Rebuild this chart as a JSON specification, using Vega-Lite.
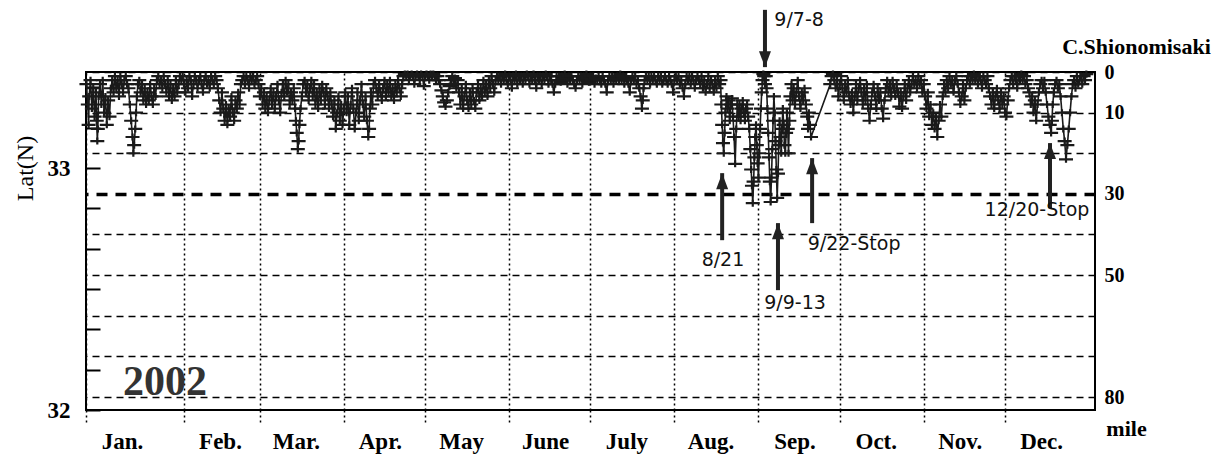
{
"$schema": "https://vega.github.io/schema/vega-lite/v6.json",
"autosize": "none",
"width": 1009,
"height": 338,
"padding": {"left": 86, "top": 72, "right": 129, "bottom": 50},
"background": "white",
"config": {"view": {"stroke": "#000", "strokeWidth": 2}},
"datasets": {
"track": [
{"day":-5,"mile":3},{"day":-4.5,"mile":8},{"day":-4.2,"mile":13},{"day":-4,"mile":6},{"day":-3.5,"mile":2},{"day":-3,"mile":9},{"day":-2.5,"mile":4},{"day":-2,"mile":11},{"day":-1.5,"mile":5},{"day":-1.2,"mile":12},{"day":-1,"mile":17},{"day":-0.8,"mile":14},{"day":-0.5,"mile":6},{"day":0,"mile":3},
{"day":0.5,"mile":8},{"day":1,"mile":2},{"day":1.5,"mile":10},{"day":2,"mile":6},{"day":2.5,"mile":13},{"day":3,"mile":7},{"day":3.5,"mile":11},{"day":4,"mile":4},
{"day":4.5,"mile":2},{"day":5,"mile":5},{"day":5.5,"mile":1},{"day":6,"mile":4},{"day":6.5,"mile":2},{"day":7,"mile":6},{"day":7.5,"mile":1},{"day":8,"mile":3},{"day":8.5,"mile":5},{"day":9,"mile":2},{"day":9.5,"mile":1},{"day":10,"mile":3},
{"day":10.5,"mile":4},{"day":11,"mile":8},{"day":11.5,"mile":12},{"day":12,"mile":16},{"day":12.3,"mile":20},{"day":12.6,"mile":18},{"day":13,"mile":14},{"day":13.3,"mile":10},{"day":13.6,"mile":6},{"day":14,"mile":3},
{"day":14.5,"mile":2},{"day":15,"mile":5},{"day":15.5,"mile":3},{"day":16,"mile":7},{"day":16.5,"mile":4},{"day":17,"mile":8},{"day":17.5,"mile":5},{"day":18,"mile":7},{"day":18.5,"mile":3},{"day":19,"mile":6},{"day":19.5,"mile":8},{"day":20,"mile":4},{"day":20.5,"mile":6},{"day":21,"mile":2},
{"day":21.5,"mile":1},{"day":22,"mile":3},{"day":22.5,"mile":2},{"day":23,"mile":4},{"day":23.5,"mile":1},{"day":24,"mile":3},{"day":24.5,"mile":5},{"day":25,"mile":2},{"day":25.5,"mile":6},{"day":26,"mile":3},{"day":26.5,"mile":7},{"day":27,"mile":4},{"day":27.5,"mile":6},{"day":28,"mile":2},{"day":28.5,"mile":5},{"day":29,"mile":3},{"day":29.5,"mile":1},{"day":30,"mile":2},
{"day":30.5,"mile":1},{"day":31,"mile":3},{"day":31.5,"mile":5},{"day":32,"mile":2},{"day":32.5,"mile":4},{"day":33,"mile":1},{"day":33.5,"mile":2},{"day":34,"mile":6},{"day":34.5,"mile":3},{"day":35,"mile":1},{"day":35.5,"mile":2},{"day":36,"mile":4},{"day":36.5,"mile":2},{"day":37,"mile":1},{"day":37.5,"mile":3},{"day":38,"mile":5},{"day":38.5,"mile":2},{"day":39,"mile":1},{"day":39.5,"mile":3},{"day":40,"mile":2},{"day":40.5,"mile":4},{"day":41,"mile":1},{"day":41.5,"mile":2},{"day":42,"mile":3},{"day":42.5,"mile":1},{"day":43,"mile":2},
{"day":43.5,"mile":4},{"day":44,"mile":7},{"day":44.5,"mile":10},{"day":45,"mile":5},{"day":45.5,"mile":9},{"day":46,"mile":12},{"day":46.5,"mile":8},{"day":47,"mile":13},{"day":47.5,"mile":9},{"day":48,"mile":11},{"day":48.5,"mile":6},{"day":49,"mile":10},{"day":49.5,"mile":12},{"day":50,"mile":7},{"day":50.5,"mile":9},{"day":51,"mile":5},{"day":51.5,"mile":8},{"day":52,"mile":3},
{"day":52.5,"mile":2},{"day":53,"mile":1},{"day":53.5,"mile":3},{"day":54,"mile":1},{"day":54.5,"mile":2},{"day":55,"mile":4},{"day":55.5,"mile":1},{"day":56,"mile":2},{"day":56.5,"mile":1},{"day":57,"mile":3},{"day":57.5,"mile":2},{"day":58,"mile":1},
{"day":58.5,"mile":3},{"day":59,"mile":6},{"day":59.5,"mile":4},{"day":60,"mile":8},{"day":60.5,"mile":5},{"day":61,"mile":9},{"day":61.5,"mile":6},{"day":62,"mile":10},{"day":62.5,"mile":7},{"day":63,"mile":4},{"day":63.5,"mile":8},{"day":64,"mile":5},{"day":64.5,"mile":9},{"day":65,"mile":6},{"day":65.5,"mile":3},{"day":66,"mile":7},{"day":66.5,"mile":10},{"day":67,"mile":5},{"day":67.5,"mile":3},{"day":68,"mile":6},
{"day":68.5,"mile":2},{"day":69,"mile":5},{"day":69.5,"mile":3},{"day":70,"mile":8},{"day":70.5,"mile":5},{"day":71,"mile":7},{"day":71.5,"mile":4},{"day":72,"mile":9},{"day":72.3,"mile":12},{"day":72.6,"mile":15},{"day":73,"mile":19},{"day":73.3,"mile":17},{"day":73.6,"mile":13},{"day":74,"mile":9},{"day":74.5,"mile":6},{"day":75,"mile":3},
{"day":75.5,"mile":2},{"day":76,"mile":5},{"day":76.5,"mile":3},{"day":77,"mile":7},{"day":77.5,"mile":4},{"day":78,"mile":2},{"day":78.5,"mile":6},{"day":79,"mile":3},{"day":79.5,"mile":8},{"day":80,"mile":5},{"day":80.5,"mile":9},{"day":81,"mile":4},{"day":81.5,"mile":7},{"day":82,"mile":3},{"day":82.5,"mile":5},{"day":83,"mile":8},{"day":83.5,"mile":4},{"day":84,"mile":6},{"day":84.5,"mile":9},{"day":85,"mile":5},
{"day":85.5,"mile":8},{"day":86,"mile":11},{"day":86.5,"mile":7},{"day":87,"mile":14},{"day":87.5,"mile":10},{"day":88,"mile":6},{"day":88.5,"mile":12},{"day":89,"mile":8},{"day":89.5,"mile":13},{"day":90,"mile":9},{"day":90.5,"mile":5},{"day":91,"mile":10},
{"day":91.5,"mile":6},{"day":92,"mile":13},{"day":92.5,"mile":8},{"day":93,"mile":4},{"day":93.5,"mile":9},{"day":94,"mile":14},{"day":94.5,"mile":10},{"day":95,"mile":5},{"day":95.5,"mile":12},{"day":96,"mile":7},{"day":96.5,"mile":3},{"day":97,"mile":8},{"day":97.5,"mile":11},{"day":98,"mile":6},{"day":98.5,"mile":12},{"day":99,"mile":16},{"day":99.3,"mile":14},{"day":99.6,"mile":9},{"day":100,"mile":5},{"day":100.5,"mile":8},{"day":101,"mile":3},
{"day":101.5,"mile":2},{"day":102,"mile":4},{"day":102.5,"mile":6},{"day":103,"mile":3},{"day":103.5,"mile":5},{"day":104,"mile":7},{"day":104.5,"mile":4},{"day":105,"mile":2},{"day":105.5,"mile":6},{"day":106,"mile":3},{"day":106.5,"mile":5},{"day":107,"mile":2},{"day":107.5,"mile":6},{"day":108,"mile":4},{"day":108.5,"mile":7},{"day":109,"mile":3},{"day":109.5,"mile":5},{"day":110,"mile":2},{"day":110.5,"mile":4},{"day":111,"mile":6},{"day":111.5,"mile":3},{"day":112,"mile":1},
{"day":112.5,"mile":0.5},{"day":113,"mile":1},{"day":113.5,"mile":0.5},{"day":114,"mile":2},{"day":114.5,"mile":1},{"day":115,"mile":0.5},{"day":115.5,"mile":1},{"day":116,"mile":3},{"day":116.5,"mile":1},{"day":117,"mile":0.5},{"day":117.5,"mile":1},{"day":118,"mile":2},{"day":118.5,"mile":0.5},{"day":119,"mile":1},{"day":119.5,"mile":3.5},{"day":120,"mile":1},{"day":120.5,"mile":0.5},{"day":121,"mile":1},{"day":121.5,"mile":2},{"day":122,"mile":0.5},{"day":122.5,"mile":1},{"day":123,"mile":0.5},{"day":123.5,"mile":1},{"day":124,"mile":2},
{"day":124.5,"mile":1},{"day":125,"mile":2},{"day":125.5,"mile":3},{"day":126,"mile":4.5},{"day":126.5,"mile":6},{"day":127,"mile":7.5},{"day":127.5,"mile":8.5},{"day":128,"mile":7},{"day":128.5,"mile":5},{"day":129,"mile":3.5},{"day":129.5,"mile":2},{"day":130,"mile":1},{"day":130.5,"mile":3},{"day":131,"mile":1.5},{"day":131.5,"mile":4},{"day":132,"mile":2},
{"day":132.5,"mile":5},{"day":133,"mile":8},{"day":133.5,"mile":4},{"day":134,"mile":9},{"day":134.5,"mile":6},{"day":135,"mile":3},{"day":135.5,"mile":7},{"day":136,"mile":9},{"day":136.5,"mile":5},{"day":137,"mile":8},{"day":137.5,"mile":4},{"day":138,"mile":7},{"day":138.5,"mile":9},{"day":139,"mile":5},{"day":139.5,"mile":3},{"day":140,"mile":7},{"day":140.5,"mile":4},{"day":141,"mile":6},{"day":141.5,"mile":2},{"day":142,"mile":5},{"day":142.5,"mile":3},{"day":143,"mile":6},{"day":143.5,"mile":2},{"day":144,"mile":4},{"day":144.5,"mile":1},{"day":145,"mile":3},{"day":145.5,"mile":5},{"day":146,"mile":2},{"day":146.5,"mile":1},
{"day":147,"mile":2},{"day":147.5,"mile":1},{"day":148,"mile":3},{"day":148.5,"mile":1},{"day":149,"mile":2},{"day":149.5,"mile":0.5},{"day":150,"mile":2},{"day":150.5,"mile":3},{"day":151,"mile":1},{"day":151.5,"mile":2},{"day":152,"mile":4},{"day":152.5,"mile":1},{"day":153,"mile":2},{"day":153.5,"mile":0.5},{"day":154,"mile":3},{"day":154.5,"mile":1},{"day":155,"mile":2},{"day":155.5,"mile":1},{"day":156,"mile":3},{"day":156.5,"mile":1},{"day":157,"mile":2},{"day":157.5,"mile":0.5},{"day":158,"mile":1},{"day":158.5,"mile":3},{"day":159,"mile":1},{"day":159.5,"mile":2},{"day":160,"mile":0.5},{"day":160.5,"mile":2},{"day":161,"mile":4},{"day":161.5,"mile":1},{"day":162,"mile":2},{"day":162.5,"mile":1},{"day":163,"mile":3},{"day":163.5,"mile":1},{"day":164,"mile":2},{"day":164.5,"mile":0.5},{"day":165,"mile":1},{"day":165.5,"mile":3},{"day":166,"mile":1},
{"day":166.5,"mile":2},{"day":167,"mile":3},{"day":167.5,"mile":5},{"day":168,"mile":3},{"day":168.5,"mile":1},{"day":169,"mile":2},{"day":169.5,"mile":1},{"day":170,"mile":2.5},{"day":170.5,"mile":1},{"day":171,"mile":2},{"day":171.5,"mile":0.5},{"day":172,"mile":1.5},{"day":172.5,"mile":3},{"day":173,"mile":1},{"day":173.5,"mile":2},{"day":174,"mile":1},{"day":174.5,"mile":2},{"day":175,"mile":3},{"day":175.5,"mile":4},{"day":176,"mile":2},{"day":176.5,"mile":1},{"day":177,"mile":2},{"day":177.5,"mile":1},{"day":178,"mile":3},{"day":178.5,"mile":1},{"day":179,"mile":2},{"day":179.5,"mile":0.5},{"day":180,"mile":1.5},{"day":180.5,"mile":2.5},{"day":181,"mile":1},{"day":181.5,"mile":2},{"day":182,"mile":1},{"day":182.5,"mile":3},{"day":183,"mile":1.5},{"day":183.5,"mile":2},{"day":184,"mile":1},{"day":184.5,"mile":2},{"day":185,"mile":3},{"day":185.5,"mile":1},{"day":186,"mile":2},{"day":186.5,"mile":3},{"day":187,"mile":5},{"day":187.5,"mile":2},{"day":188,"mile":1},{"day":188.5,"mile":2},{"day":189,"mile":1},{"day":189.5,"mile":3},{"day":190,"mile":1.5},{"day":190.5,"mile":2},{"day":191,"mile":1},{"day":191.5,"mile":2},{"day":192,"mile":0.5},{"day":192.5,"mile":2},{"day":193,"mile":1},{"day":193.5,"mile":3},{"day":194,"mile":1.5},{"day":194.5,"mile":2},{"day":195,"mile":3},{"day":195.5,"mile":5},{"day":196,"mile":2},{"day":196.5,"mile":1},{"day":197,"mile":2},{"day":197.5,"mile":1},{"day":198,"mile":3},{"day":198.5,"mile":2},{"day":199,"mile":4},{"day":199.5,"mile":6},{"day":200,"mile":9},{"day":200.3,"mile":7},{"day":200.6,"mile":4},{"day":201,"mile":2},{"day":201.5,"mile":1},{"day":202,"mile":2},{"day":202.5,"mile":1},{"day":203,"mile":3},{"day":203.5,"mile":1},{"day":204,"mile":2},{"day":204.5,"mile":1},{"day":205,"mile":2},{"day":205.5,"mile":3},{"day":206,"mile":1},{"day":206.5,"mile":2},{"day":207,"mile":1},{"day":207.5,"mile":3},{"day":208,"mile":2},{"day":208.5,"mile":1},{"day":209,"mile":2},{"day":209.5,"mile":3},{"day":210,"mile":1},{"day":210.5,"mile":2},{"day":211,"mile":3},{"day":211.5,"mile":5},{"day":212,"mile":2},{"day":212.5,"mile":1},{"day":213,"mile":2},{"day":213.5,"mile":1},{"day":214,"mile":3},{"day":214.5,"mile":2},{"day":215,"mile":4},{"day":215.5,"mile":6},{"day":216,"mile":3},{"day":216.5,"mile":1},{"day":217,"mile":2},{"day":217.5,"mile":1},{"day":218,"mile":3},{"day":218.5,"mile":1},{"day":219,"mile":2},{"day":219.5,"mile":4},{"day":220,"mile":2},{"day":220.5,"mile":1},{"day":221,"mile":2},
{"day":221.5,"mile":3},{"day":222,"mile":1},{"day":222.5,"mile":4},{"day":223,"mile":2},{"day":223.5,"mile":5},{"day":224,"mile":3},{"day":224.5,"mile":1},{"day":225,"mile":4},{"day":225.5,"mile":2},{"day":226,"mile":3},{"day":226.5,"mile":5},{"day":227,"mile":2},{"day":227.5,"mile":4},{"day":228,"mile":1},{"day":228.5,"mile":3},
{"day":229,"mile":2},{"day":229.3,"mile":8},{"day":229.6,"mile":13},{"day":229.9,"mile":17.5},{"day":230.2,"mile":20},{"day":230.5,"mile":15},{"day":230.8,"mile":10},{"day":231.2,"mile":6},{"day":231.6,"mile":9},{"day":232,"mile":7},{"day":232.4,"mile":12},{"day":232.8,"mile":8},{"day":233.2,"mile":6.5},{"day":233.6,"mile":11},{"day":234,"mile":16},{"day":234.4,"mile":22.6},{"day":234.8,"mile":14},{"day":235.2,"mile":8},{"day":235.6,"mile":11},{"day":236,"mile":8},{"day":236.4,"mile":12},{"day":236.8,"mile":9},{"day":237.2,"mile":7},{"day":237.6,"mile":10},{"day":238,"mile":12},{"day":238.4,"mile":9},{"day":238.8,"mile":8},{"day":239.2,"mile":11},{"day":239.6,"mile":14},{"day":240,"mile":19},{"day":240.3,"mile":24},{"day":240.6,"mile":28},{"day":240.9,"mile":32.3},{"day":241.2,"mile":27},{"day":241.5,"mile":21},{"day":241.8,"mile":16},{"day":242.1,"mile":13},{"day":242.4,"mile":18},{"day":242.7,"mile":22.5},{"day":243,"mile":26},{"day":243.3,"mile":20},{"day":243.6,"mile":14},{"day":243.9,"mile":9},{"day":244.2,"mile":5},{"day":244.5,"mile":2},{"day":244.8,"mile":0.5},{"day":245.1,"mile":1},{"day":245.4,"mile":3},{"day":245.7,"mile":1},{"day":246,"mile":4},{"day":246.3,"mile":9},{"day":246.6,"mile":15},{"day":246.9,"mile":21},{"day":247.2,"mile":27},{"day":247.5,"mile":32},{"day":247.8,"mile":26},{"day":248.1,"mile":19},{"day":248.4,"mile":12},{"day":248.7,"mile":6},{"day":249,"mile":10},{"day":249.3,"mile":17},{"day":249.6,"mile":24},{"day":249.9,"mile":31},{"day":250.2,"mile":25},{"day":250.5,"mile":18},{"day":250.8,"mile":12},{"day":251.1,"mile":16},{"day":251.4,"mile":20},{"day":251.7,"mile":14},{"day":252,"mile":9},{"day":252.3,"mile":13},{"day":252.6,"mile":18},{"day":252.9,"mile":20},{"day":253.2,"mile":15},{"day":253.5,"mile":10},{"day":253.8,"mile":14},{"day":254.1,"mile":20},{"day":254.4,"mile":12},{"day":254.8,"mile":6},{"day":255.2,"mile":3},{"day":255.6,"mile":7},{"day":256,"mile":4},{"day":256.5,"mile":8},{"day":257,"mile":5},{"day":257.5,"mile":2},{"day":258,"mile":6},{"day":258.5,"mile":9},{"day":259,"mile":5},{"day":259.5,"mile":7},{"day":260,"mile":4},{"day":260.5,"mile":8},{"day":261,"mile":11},{"day":261.3,"mile":14},{"day":261.6,"mile":10},{"day":262,"mile":13},{"day":262.4,"mile":16},{"day":269.5,"mile":3},{"day":270,"mile":1},{"day":270.5,"mile":0.5},
{"day":271,"mile":2},{"day":271.5,"mile":4},{"day":272,"mile":2},{"day":272.5,"mile":6},{"day":273,"mile":3},{"day":273.5,"mile":1},{"day":274,"mile":4},{"day":274.5,"mile":7},{"day":275,"mile":3},{"day":275.5,"mile":5},{"day":276,"mile":2},{"day":276.5,"mile":6},{"day":277,"mile":8},{"day":277.5,"mile":5},{"day":278,"mile":10},{"day":278.5,"mile":6},{"day":279,"mile":3},{"day":279.5,"mile":7},{"day":280,"mile":4},{"day":280.5,"mile":2},{"day":281,"mile":5},{"day":281.5,"mile":8},{"day":282,"mile":4},{"day":282.5,"mile":7},{"day":283,"mile":3},{"day":283.5,"mile":9},{"day":284,"mile":12},{"day":284.5,"mile":8},{"day":285,"mile":5},{"day":285.5,"mile":3},{"day":286,"mile":6},{"day":286.5,"mile":9},{"day":287,"mile":4},{"day":287.5,"mile":7},{"day":288,"mile":5},{"day":288.5,"mile":9},{"day":289,"mile":11.5},{"day":289.5,"mile":7},{"day":290,"mile":4},{"day":290.5,"mile":2},{"day":291,"mile":5},{"day":291.5,"mile":3},{"day":292,"mile":6},{"day":292.5,"mile":2},{"day":293,"mile":4},{"day":293.5,"mile":6},{"day":294,"mile":3},{"day":294.5,"mile":5},{"day":295,"mile":8.5},
{"day":295.5,"mile":5},{"day":296,"mile":9},{"day":296.5,"mile":6},{"day":297,"mile":3},{"day":297.5,"mile":7},{"day":298,"mile":4},{"day":298.5,"mile":2},{"day":299,"mile":5},{"day":299.5,"mile":3},{"day":300,"mile":1},{"day":300.5,"mile":3},{"day":301,"mile":2},{"day":301.5,"mile":4},{"day":302,"mile":1},{"day":302.5,"mile":3},{"day":303,"mile":2},{"day":303.5,"mile":5},{"day":304,"mile":3},{"day":304.5,"mile":6},
{"day":305,"mile":9},{"day":305.5,"mile":5},{"day":306,"mile":11},{"day":306.5,"mile":8},{"day":307,"mile":13},{"day":307.5,"mile":10},{"day":308,"mile":14},{"day":308.5,"mile":11},{"day":309,"mile":16},{"day":309.5,"mile":12},{"day":310,"mile":8},{"day":310.5,"mile":11},{"day":311,"mile":6},
{"day":311.5,"mile":3},{"day":312,"mile":5},{"day":312.5,"mile":2},{"day":313,"mile":4},{"day":313.5,"mile":1},{"day":314,"mile":3},{"day":314.5,"mile":2},{"day":315,"mile":5},{"day":315.5,"mile":2},{"day":316,"mile":1},{"day":316.5,"mile":3},
{"day":317,"mile":5},{"day":317.5,"mile":8},{"day":318,"mile":6},{"day":318.5,"mile":3},{"day":319,"mile":7},{"day":319.5,"mile":4},{"day":320,"mile":2},
{"day":320.5,"mile":1},{"day":321,"mile":3},{"day":321.5,"mile":1},{"day":322,"mile":2},{"day":322.5,"mile":0.5},{"day":323,"mile":2},{"day":323.5,"mile":1},{"day":324,"mile":3},{"day":324.5,"mile":1},{"day":325,"mile":2},{"day":325.5,"mile":4},{"day":326,"mile":1},{"day":326.5,"mile":2},{"day":327,"mile":3},{"day":327.5,"mile":1},{"day":328,"mile":4},
{"day":328.5,"mile":6},{"day":329,"mile":8},{"day":329.5,"mile":5},{"day":330,"mile":9},{"day":330.5,"mile":6},{"day":331,"mile":4},{"day":331.5,"mile":7},{"day":332,"mile":9},{"day":332.5,"mile":5},{"day":333,"mile":8},{"day":333.5,"mile":6},{"day":334,"mile":10},{"day":334.5,"mile":11},{"day":335,"mile":7},{"day":335.5,"mile":4},{"day":336,"mile":2},
{"day":336.5,"mile":1},{"day":337,"mile":3},{"day":337.5,"mile":1},{"day":338,"mile":2},{"day":338.5,"mile":4},{"day":339,"mile":1},{"day":339.5,"mile":2},{"day":340,"mile":0.5},{"day":340.5,"mile":2},{"day":341,"mile":1},{"day":341.5,"mile":3},{"day":342,"mile":2},{"day":342.5,"mile":4},
{"day":343,"mile":5},{"day":343.5,"mile":8},{"day":344,"mile":6},{"day":344.5,"mile":10},{"day":345,"mile":7},{"day":345.5,"mile":12},{"day":346,"mile":8},{"day":346.5,"mile":5},{"day":347,"mile":3},
{"day":347.5,"mile":2},{"day":348,"mile":4},{"day":348.5,"mile":2},{"day":349,"mile":5},
{"day":349.5,"mile":8},{"day":350,"mile":11},{"day":350.5,"mile":13},{"day":351,"mile":15},{"day":351.3,"mile":12},{"day":351.6,"mile":8},{"day":352,"mile":5},
{"day":352.5,"mile":3},{"day":353,"mile":2},{"day":353.5,"mile":4},{"day":354,"mile":3},
{"day":354.5,"mile":6},{"day":355,"mile":10},{"day":355.5,"mile":14},{"day":356,"mile":17},{"day":356.5,"mile":21.5},{"day":357,"mile":18},{"day":357.5,"mile":14},{"day":358,"mile":10},{"day":358.5,"mile":6},{"day":359,"mile":3},
{"day":359.5,"mile":2},{"day":360,"mile":4},{"day":360.5,"mile":1},{"day":361,"mile":3},{"day":361.5,"mile":2},{"day":362,"mile":1},{"day":362.5,"mile":3},{"day":363,"mile":1},{"day":363.5,"mile":2},{"day":364,"mile":0.5}
],
"upArrows": [
{"day":229.6,"tip":24.9,"end":41.4},
{"day":250.2,"tip":37.2,"end":53.7},
{"day":262.8,"tip":21.2,"end":37.2},
{"day":350.6,"tip":17.5,"end":33.5}
],
"downArrows": [
{"day":245.4,"tip":-1.2,"end":-15.3}
],
"notes": [
{"day":229.9,"mile":46.3,"text":"8/21"},
{"day":256.5,"mile":56.9,"text":"9/9-13"},
{"day":278.3,"mile":42.3,"text":"9/22-Stop"},
{"day":345.8,"mile":34,"text":"12/20-Stop"},
{"day":258,"mile":-12.9,"text":"9/7-8"}
]
},
"resolve": {"scale": {"y": "independent"}},
"layer": [
{
"data": {"name": "track"},
"mark": {"type": "line", "color": "#1a1a1a", "strokeWidth": 1.6},
"encoding": {
"x": {"field": "day", "type": "quantitative", "scale": {"domain": [-5.17, 367.2], "nice": false, "zero": false},
"axis": {
"values": [-5.17,31,59,90,120,151,181,212,243,273,304,334],
"grid": true, "gridColor": "#000", "gridDash": [2,3], "gridWidth": 1.5,
"ticks": true, "tickSize": 12, "tickDash": [2,3], "tickWidth": 1.5, "tickColor": "#000",
"domain": false,
"labelExpr": "datum.value < 0 ? 'Jan.' : datum.value < 40 ? 'Feb.' : datum.value < 70 ? 'Mar.' : datum.value < 100 ? 'Apr.' : datum.value < 130 ? 'May' : datum.value < 160 ? 'June' : datum.value < 190 ? 'July' : datum.value < 220 ? 'Aug.' : datum.value < 250 ? 'Sep.' : datum.value < 280 ? 'Oct.' : datum.value < 310 ? 'Nov.' : 'Dec.'",
"labelOffset": 36,
"labelAlign": "center", "labelBaseline": "top", "labelPadding": 8,
"labelFont": "Liberation Serif", "labelFontWeight": "bold", "labelFontSize": 23, "labelColor": "#000",
"labelFlush": false, "labelOverlap": false, "labelBound": false,
"title": "mile", "titleX": 1040, "titleY": 25, "titleAlign": "center", "titleBaseline": "alphabetic", "titleAngle": 0,
"titleFont": "Liberation Serif", "titleFontWeight": "bold", "titleFontSize": 22, "titleColor": "#000"
}},
"y": {"field": "mile", "type": "quantitative", "scale": {"domain": [0, 83.2], "reverse": true, "nice": false, "zero": false},
"axis": {
"orient": "right",
"values": [0,10,20,30,40,50,60,70,80],
"grid": true, "gridColor": "#000",
"gridDash": {"condition": {"test": "datum.value === 30", "value": [11,8]}, "value": [7,5]},
"gridWidth": {"condition": {"test": "datum.value === 30", "value": 3.5}, "value": 1.6},
"ticks": false, "domain": false,
"labelExpr": "indexof([0,10,30,50,80], datum.value) >= 0 ? datum.label : ''",
"labelPadding": 9, "labelAlign": "left", "labelBaseline": "middle",
"labelFont": "Liberation Serif", "labelFontWeight": "bold", "labelFontSize": 20, "labelColor": "#000",
"labelFlush": false, "labelOverlap": false, "labelBound": false,
"title": "C.Shionomisaki", "titleX": 41, "titleY": -19, "titleAngle": 0, "titleAlign": "center", "titleBaseline": "alphabetic",
"titleFont": "Liberation Serif", "titleFontWeight": "bold", "titleFontSize": 22, "titleColor": "#000"
}}
}
},
{
"data": {"name": "track"},
"mark": {"type": "point", "shape": "M-1,0H1M0,-0.5V0.5", "size": 196, "filled": false, "stroke": "#1a1a1a", "strokeWidth": 2.2, "opacity": 1},
"encoding": {
"x": {"field": "day", "type": "quantitative"},
"y": {"field": "mile", "type": "quantitative", "scale": {"domain": [0, 83.2], "reverse": true, "nice": false, "zero": false}, "axis": null}
}
},
{
"data": {"name": "upArrows"},
"mark": {"type": "rule", "color": "#222", "strokeWidth": 4},
"encoding": {
"x": {"field": "day", "type": "quantitative"},
"y": {"field": "tip", "type": "quantitative", "scale": {"domain": [0, 83.2], "reverse": true, "nice": false, "zero": false}, "axis": null},
"y2": {"field": "end"}
}
},
{
"data": {"name": "upArrows"},
"mark": {"type": "point", "shape": "M-0.75,2L0,0L0.75,2Z", "size": 256, "filled": true, "color": "#222", "opacity": 1},
"encoding": {
"x": {"field": "day", "type": "quantitative"},
"y": {"field": "tip", "type": "quantitative", "scale": {"domain": [0, 83.2], "reverse": true, "nice": false, "zero": false}, "axis": null}
}
},
{
"data": {"name": "downArrows"},
"mark": {"type": "rule", "color": "#222", "strokeWidth": 4},
"encoding": {
"x": {"field": "day", "type": "quantitative"},
"y": {"field": "tip", "type": "quantitative", "scale": {"domain": [0, 83.2], "reverse": true, "nice": false, "zero": false}, "axis": null},
"y2": {"field": "end"}
}
},
{
"data": {"name": "downArrows"},
"mark": {"type": "point", "shape": "M-0.75,-2L0,0L0.75,-2Z", "size": 256, "filled": true, "color": "#222", "opacity": 1},
"encoding": {
"x": {"field": "day", "type": "quantitative"},
"y": {"field": "tip", "type": "quantitative", "scale": {"domain": [0, 83.2], "reverse": true, "nice": false, "zero": false}, "axis": null}
}
},
{
"data": {"name": "notes"},
"mark": {"type": "text", "font": "DejaVu Sans", "fontSize": 19, "color": "#111", "align": "center", "baseline": "middle"},
"encoding": {
"x": {"field": "day", "type": "quantitative"},
"y": {"field": "mile", "type": "quantitative", "scale": {"domain": [0, 83.2], "reverse": true, "nice": false, "zero": false}, "axis": null},
"text": {"field": "text"}
}
},
{
"data": {"values": [{"label": "2002"}]},
"mark": {"type": "text", "font": "Liberation Serif", "fontWeight": "bold", "fontSize": 42, "color": "#333", "align": "center", "baseline": "alphabetic"},
"encoding": {
"x": {"datum": 24, "type": "quantitative"},
"y": {"datum": 32.062, "type": "quantitative", "scale": {"domain": [32, 33.3967], "nice": false, "zero": false},
"axis": {
"orient": "left",
"values": [32, 32.166667, 32.333333, 32.5, 32.666667, 32.833333, 33, 33.166667, 33.333333],
"grid": false, "domain": false,
"ticks": true, "tickSize": -14, "tickWidth": 2, "tickColor": "#000",
"labelExpr": "datum.value === 32 ? '32' : datum.value === 33 ? '33' : ''",
"labelPadding": 30, "labelFont": "Liberation Serif", "labelFontWeight": "bold", "labelFontSize": 23, "labelColor": "#000",
"labelFlush": false, "labelOverlap": false, "labelBound": false,
"title": "Lat(N)", "titleX": -61, "titleY": 96, "titleAngle": -90, "titleAlign": "center", "titleBaseline": "middle",
"titleFont": "Liberation Serif", "titleFontWeight": "normal", "titleFontSize": 24, "titleColor": "#000"
}},
"text": {"field": "label"}
}
}
]
}
